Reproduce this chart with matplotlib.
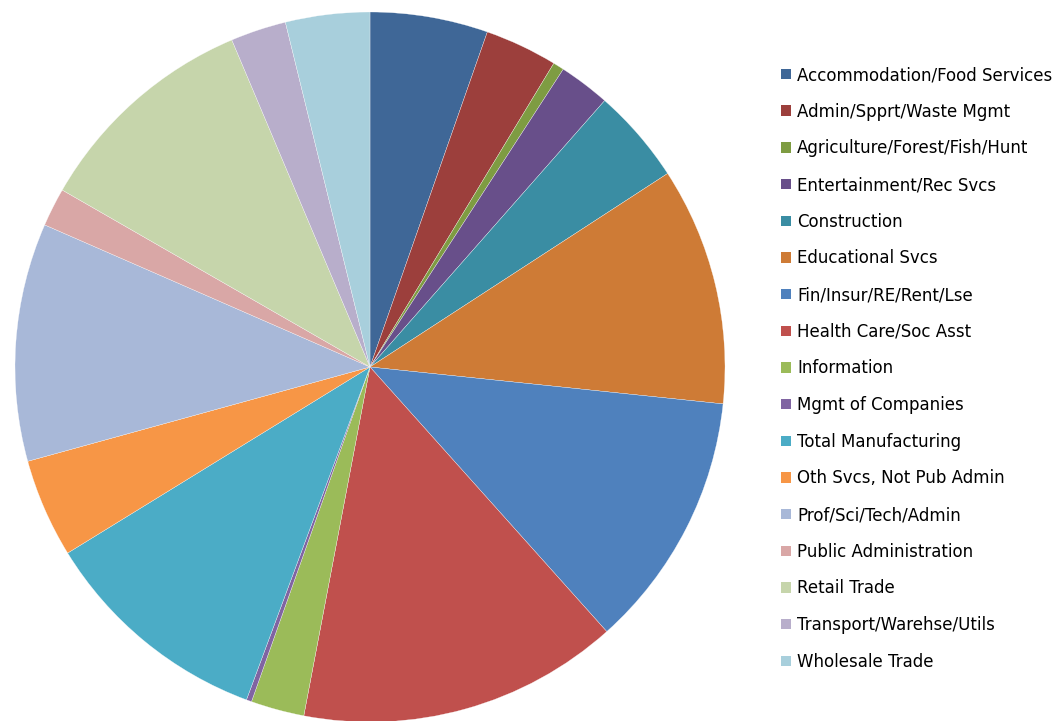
import matplotlib
matplotlib.use("Agg")
import matplotlib.pyplot as plt
from matplotlib.patches import Patch

categories = [
    "Accommodation/Food Services",
    "Admin/Spprt/Waste Mgmt",
    "Agriculture/Forest/Fish/Hunt",
    "Entertainment/Rec Svcs",
    "Construction",
    "Educational Svcs",
    "Fin/Insur/RE/Rent/Lse",
    "Health Care/Soc Asst",
    "Information",
    "Mgmt of Companies",
    "Total Manufacturing",
    "Oth Svcs, Not Pub Admin",
    "Prof/Sci/Tech/Admin",
    "Public Administration",
    "Retail Trade",
    "Transport/Warehse/Utils",
    "Wholesale Trade",
]
shares = [5.36, 3.30, 0.50, 2.33, 4.33, 10.83, 11.72, 14.60, 2.43, 0.24,
          10.56, 4.50, 10.83, 1.75, 10.33, 2.53, 3.83]
colors = [
    "#3F6797", "#9C3F3C", "#7E9C42", "#684F8A", "#3A8DA3", "#CE7B36",
    "#4F81BD", "#C0504D", "#9BBB59", "#8064A2", "#4BACC6", "#F79646",
    "#A8B8D8", "#D9A7A6", "#C6D5AB", "#B8AECB", "#A8CFDC",
]

W, H = 1057, 721
fig = plt.figure(figsize=(W / 100, H / 100), dpi=100)
fig.patch.set_facecolor("white")

cx, cy, r = 370, 367, 355
ax = fig.add_axes([(cx - r) / W, (H - cy - r) / H, 2 * r / W, 2 * r / H])
ax.pie(shares, colors=colors, startangle=90, counterclock=False, radius=1,
       wedgeprops=dict(edgecolor="white", linewidth=0.2))
ax.set_xlim(-1, 1)
ax.set_ylim(-1, 1)
ax.set_aspect("equal")
ax.axis("off")

handles = [Patch(facecolor=c, edgecolor="none") for c in colors]
fig.legend(handles, categories, loc="upper left",
           bbox_to_anchor=(781 / W, 1 - 66 / H), frameon=False,
           handlelength=0.6, handleheight=0.6,
           handletextpad=0.36, labelspacing=1.12, borderaxespad=0,
           borderpad=0, prop=dict(family="DejaVu Sans", size=12))

fig.savefig("out.png", dpi=100, facecolor="white")
